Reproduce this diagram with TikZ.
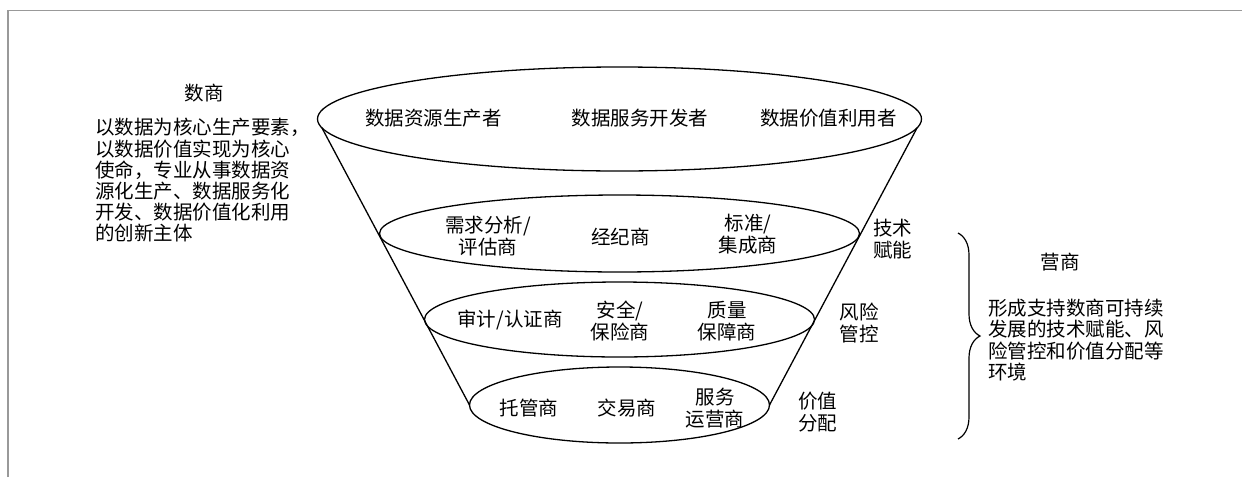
\documentclass[tikz,border=0pt]{standalone}
\usepackage{fontspec}
\newfontfamily\cjk{Noto Sans CJK SC}
\usetikzlibrary{decorations.pathreplacing}
\begin{document}
\begin{tikzpicture}[x=1pt,y=-1pt,
  lbl/.style={font=\cjk\fontsize{19.5}{22}\selectfont, align=center, inner sep=0pt},
  para/.style={font=\cjk\fontsize{19.5}{21.2}\selectfont, align=left, inner sep=0pt},
  shapeline/.style={line width=1.3pt, black},
  frame/.style={line width=1.6pt, black!40}]
\useasboundingbox (0,0) rectangle (1242,477);
\draw[frame] (8,477) -- (8,10.5) -- (1242,10.5);
% ellipses
\draw[shapeline] (619.5,119) ellipse [x radius=302pt, y radius=52pt];
\draw[shapeline] (619.5,233.5) ellipse [x radius=240pt, y radius=38.5pt];
\draw[shapeline] (619.5,319.5) ellipse [x radius=195pt, y radius=37.5pt];
\draw[shapeline] (619.5,405) ellipse [x radius=150pt, y radius=38pt];
% funnel sides
\coordinate (tl) at (322,128);
\coordinate (bl) at (469.5,405);
\coordinate (tr) at (917,128);
\coordinate (br) at (769.5,405);
\draw[shapeline] (tl) -- (bl);
\draw[shapeline] (tr) -- (br);
% brace
\coordinate (bt) at (958,233);
\coordinate (bb) at (958,439);
\draw[line width=1.2pt, decorate, decoration={brace, amplitude=22pt}] (bt) -- (bb);
% left text
\node[lbl] (shu) at (204,93.5) {数商};
\node[para, anchor=west] (shudesc) at (95,180.5) {以数据为核心生产要素，\\以数据价值实现为核心\\使命，专业从事数据资\\源化生产、数据服务化\\开发、数据价值化利用\\的创新主体};
% right text
\node[lbl] (ying) at (1060,262) {营商};
\node[para, anchor=west] (yingdesc) at (988,340) {形成支持数商可持续\\发展的技术赋能、风\\险管控和价值分配等\\环境};
% ellipse labels
\node[lbl] (a1) at (433.5,118) {数据资源生产者};
\node[lbl] (a2) at (640,118) {数据服务开发者};
\node[lbl] (a3) at (828.5,118) {数据价值利用者};
\node[lbl] (b1) at (488,236) {需求分析/\\评估商};
\node[lbl] (b2) at (620.5,237) {经纪商};
\node[lbl] (b3) at (748,234) {标准/\\集成商};
\node[lbl] (c1) at (510,320) {审计/认证商};
\node[lbl] (c2) at (620,321) {安全/\\保险商};
\node[lbl] (c3) at (727,321) {质量\\保障商};
\node[lbl] (d1) at (529,408) {托管商};
\node[lbl] (d2) at (627,408) {交易商};
\node[lbl] (d3) at (715,408) {服务\\运营商};
% side labels
\node[lbl] (s1) at (892.5,239) {技术\\赋能};
\node[lbl] (s2) at (859,323) {风险\\管控};
\node[lbl] (s3) at (817.5,412) {价值\\分配};
\end{tikzpicture}
\end{document}
